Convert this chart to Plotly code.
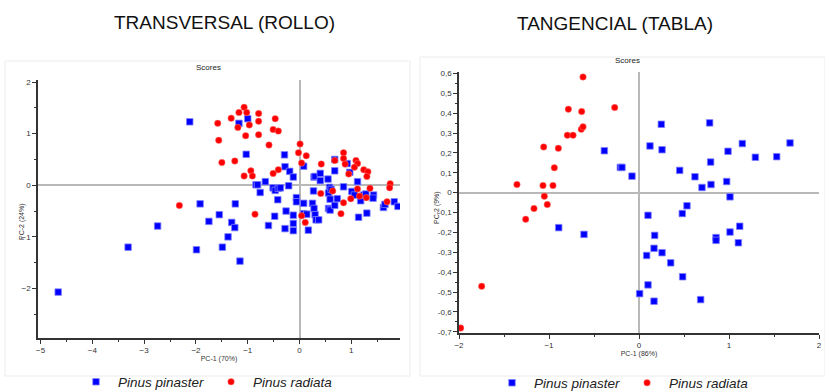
import plotly.graph_objects as go

# ---------------- data ----------------
# Left panel: TRANSVERSAL (ROLLO)
rollo_pinaster_x = [-2.12, -1.17, -1.00, -1.03, -0.29, 0.08, -0.28, -0.19, -0.12, -0.66, -0.84, -0.81, -0.76,
                    -0.51, -0.47, -0.41, -0.37, -0.42, -0.21, -0.06, -0.06, -0.12, -0.12, -0.12, -0.26, -0.28,
                    -0.48, -0.60, 0.08, 0.08, 0.14, 0.17, 0.25, 0.28, 0.30, 0.32, 0.37, 0.27, 0.28, 0.30, 0.40,
                    0.40, 0.55, 0.58, 0.56, 0.59, 0.56, 0.59, 0.68, 0.68, 0.68, 0.73, 0.85, 0.92, 0.97, 1.01,
                    1.06, 1.12, 1.14, 1.18, 1.24, 1.28, 1.30, 1.43, 1.42, 1.62, 1.65, 1.83, 1.90, -1.92, -1.24,
                    -1.55, -1.75, -1.31, -1.25, -1.38, -1.49, -1.99, -1.15, -2.74, -3.31, -4.66, 0.61]
rollo_pinaster_y = [1.23, 1.20, 1.29, 0.60, 0.59, 0.37, 0.36, 0.27, 0.16, 0.07, 0.01, 0.01, -0.14,
                    -0.05, -0.10, -0.06, -0.05, -0.28, -0.01, -0.24, -0.32, -0.58, -0.74, -0.88, -0.50, -0.84,
                    -0.60, -0.78, -0.35, -0.55, -0.56, -0.87, -0.35, -0.45, -0.57, -0.67, -0.67, -0.11, 0.16, 0.17, 0.23,
                    0.09, 0.12, -0.04, -0.15, -0.27, -0.45, -0.48, -0.39, 0.28, 0.50, -0.26, -0.03, 0.42, 0.25, -0.12,
                    -0.19, 0.07, -0.62, -0.30, -0.19, -0.17, -0.54, -0.19, -0.25, -0.43, -0.37, -0.32, -0.41, -0.36, -0.36,
                    -0.57, -0.70, -0.72, -0.82, -1.00, -1.20, -1.25, -1.47, -0.79, -1.20, -2.07, -0.08]
rollo_radiata_x = [-1.07, -1.17, -1.02, -0.79, -1.32, -0.47, -1.58, -0.97, -0.79, -1.19, -0.51, -0.41, -1.04,
                   -0.79, -1.56, -0.59, 0.01, -0.02, 0.13, -1.50, -1.25, 0.04, 0.42, -0.41, -0.94, -1.07, -0.91,
                   -0.51, 0.85, 0.85, 0.68, 1.09, 1.12, 0.88, 1.06, 1.24, 1.32, 1.30, 0.95, 1.75, 1.74, 1.36,
                   0.41, 0.64, 1.12, 1.16, 0.99, 1.29, 1.69, 0.85, 0.80, 0.04, 0.11, -0.86, -2.32]
rollo_radiata_y = [1.51, 1.41, 1.41, 1.39, 1.30, 1.29, 1.20, 1.17, 1.24, 1.12, 1.08, 1.05, 0.96,
                   0.98, 0.87, 0.78, 0.80, 0.63, 0.57, 0.44, 0.47, 0.43, 0.41, 0.30, 0.28, 0.18, 0.18,
                   0.23, 0.63, 0.52, 0.48, 0.48, 0.42, 0.41, 0.35, 0.30, 0.26, 0.17, 0.22, 0.03, -0.05, -0.06,
                   -0.16, -0.11, -0.07, -0.21, -0.26, -0.24, -0.32, -0.34, -0.55, -0.59, -0.72, -0.56, -0.39]

# Right panel: TANGENCIAL (TABLA)
tabla_pinaster_x = [-0.385, -0.207, -0.189, -0.078, 0.248, 0.122, 0.256, 0.785, 0.452, 0.622, 0.700, 0.800,
                    0.796, 0.974, 0.989, 1.148, 1.293, 1.530, 1.678, 1.011, 0.533, -0.892, -0.611, 0.100,
                    0.085, 0.100, 0.007, 0.481, 1.119, 1.011, 0.174, 0.856, 0.856, 1.104, 0.167, 0.256,
                    0.352, 0.485, 0.167, 0.685]
tabla_pinaster_y = [0.211, 0.127, 0.127, 0.083, 0.344, 0.235, 0.216, 0.351, 0.112, 0.080, 0.026, 0.041,
                    0.154, 0.056, 0.208, 0.247, 0.178, 0.181, 0.250, -0.021, -0.066, -0.176, -0.210, -0.114,
                    -0.316, -0.464, -0.508, -0.105, -0.169, -0.198, -0.215, -0.226, -0.240, -0.252, -0.280, -0.302,
                    -0.353, -0.423, -0.546, -0.538]
tabla_radiata_x = [-0.622, -0.785, -0.637, -0.270, -0.796, -0.733, -0.641, -0.622, -1.059, -0.896, -0.941,
                   -1.356, -1.067, -0.956, -1.052, -1.019, -1.167, -1.259, -1.748, -1.981]
tabla_radiata_y = [0.582, 0.420, 0.408, 0.428, 0.289, 0.289, 0.319, 0.331, 0.230, 0.223, 0.125,
                   0.041, 0.036, 0.036, -0.018, -0.060, -0.080, -0.134, -0.471, -0.681]

series_names = ["Pinus pinaster", "Pinus radiata"]
panel_titles = ["TRANSVERSAL (ROLLO)", "TANGENCIAL (TABLA)"]
axis_titles = [("PC-1 (70%)", "PC-2 (24%)"), ("PC-1 (86%)", "PC-2 (9%)")]

left_xticks = [-5, -4, -3, -2, -1, 0, 1]
left_yticks = [-2, -1, 0, 1, 2]
right_xticks = [-2, -1, 0, 1, 2]
right_yticks = [0.6, 0.5, 0.4, 0.3, 0.2, 0.1, 0, -0.1, -0.2, -0.3, -0.4, -0.5, -0.6, -0.7]
right_yticktext = ["0,6", "0,5", "0,4", "0,3", "0,2", "0,1", "0", "-0,1", "-0,2", "-0,3", "-0,4",
                   "-0,5", "-0,6", "-0,7"]

# ---------------- figure ----------------
W, H = 825, 392
BLUE = "#0000ff"
RED = "#ff0000"
TICKFONT = dict(family="Liberation Sans, Arial, sans-serif", size=8, color="#333333")

def px_x(p):
    return p / W

def px_y(p):
    return 1 - p / H

sq = dict(symbol="square", size=6.5, color=BLUE, line=dict(width=0.8, color="#8080ff"))
dot = dict(symbol="circle", size=6.5, color=RED, line=dict(width=0.5, color="#ff8080"))

fig = go.Figure()
fig.add_trace(go.Scatter(x=rollo_pinaster_x, y=rollo_pinaster_y, mode="markers", marker=sq,
                         name=series_names[0], xaxis="x", yaxis="y", legend="legend"))
fig.add_trace(go.Scatter(x=rollo_radiata_x, y=rollo_radiata_y, mode="markers", marker=dot,
                         name=series_names[1], xaxis="x", yaxis="y", legend="legend"))
fig.add_trace(go.Scatter(x=tabla_pinaster_x, y=tabla_pinaster_y, mode="markers", marker=sq,
                         name=series_names[0], xaxis="x2", yaxis="y2", legend="legend2"))
fig.add_trace(go.Scatter(x=tabla_radiata_x, y=tabla_radiata_y, mode="markers", marker=dot,
                         name=series_names[1], xaxis="x2", yaxis="y2", legend="legend2"))

axis_common = dict(showline=True, linecolor="#333333", linewidth=1.5, ticks="outside", ticklen=4,
                   tickwidth=1, tickcolor="#333333", showgrid=False, zeroline=True,
                   zerolinecolor="#b8b8b8", zerolinewidth=1.5, tickfont=TICKFONT, mirror=False,
                   automargin=False)

legend_font = dict(family="Liberation Sans, sans-serif", size=13.5, style="italic", color="#222222")

fig.update_layout(
    width=W, height=H, margin=dict(l=0, r=0, t=0, b=0, autoexpand=False),
    paper_bgcolor="white", plot_bgcolor="white",
    xaxis=dict(axis_common, domain=[px_x(38), px_x(400)], range=[-5.05, 1.94], anchor="y",
               tickvals=left_xticks, minor=dict(ticks="outside", ticklen=2, dtick=0.5, tickcolor="#333333"),
               title=dict(text=axis_titles[0][0], font=dict(TICKFONT, size=7), standoff=2)),
    yaxis=dict(axis_common, domain=[px_y(338), px_y(80)], range=[-2.96, 2.04], anchor="x",
               tickvals=left_yticks, minor=dict(ticks="outside", ticklen=2, dtick=0.5, tickcolor="#333333")),
    xaxis2=dict(axis_common, domain=[px_x(459), px_x(819)], range=[-2, 2], anchor="y2",
                tickvals=right_xticks, minor=dict(ticks="outside", ticklen=2, dtick=0.5, tickcolor="#333333"),
                title=dict(text=axis_titles[1][0], font=dict(TICKFONT, size=7), standoff=2)),
    yaxis2=dict(axis_common, domain=[px_y(333), px_y(72)], range=[-0.706, 0.607], anchor="x2",
                tickvals=right_yticks, ticktext=right_yticktext,
                minor=dict(ticks="outside", ticklen=2, dtick=0.05, tickcolor="#333333")),
    legend=dict(orientation="h", x=px_x(74), y=px_y(382), xanchor="left", yanchor="middle",
                font=legend_font, itemwidth=34, bgcolor="rgba(0,0,0,0)", itemclick=False),
    legend2=dict(orientation="h", x=px_x(490), y=px_y(383), xanchor="left", yanchor="middle",
                 font=legend_font, itemwidth=34, bgcolor="rgba(0,0,0,0)", itemclick=False),
    showlegend=True,
)

# panel frames (faint)
fig.add_shape(type="rect", xref="paper", yref="paper", x0=px_x(5), x1=px_x(410), y0=px_y(376), y1=px_y(61),
              line=dict(color="#ececec", width=1), layer="below")
fig.add_shape(type="rect", xref="paper", yref="paper", x0=px_x(420), x1=px_x(825), y0=px_y(376), y1=px_y(57),
              line=dict(color="#ececec", width=1), layer="below")

# titles
title_font = dict(family="Liberation Sans, sans-serif", size=19, color="#111111")
fig.add_annotation(text=panel_titles[0], xref="paper", yref="paper", x=px_x(224), y=px_y(22),
                   showarrow=False, font=title_font, xanchor="center", yanchor="middle")
fig.add_annotation(text=panel_titles[1], xref="paper", yref="paper", x=px_x(615), y=px_y(24),
                   showarrow=False, font=title_font, xanchor="center", yanchor="middle")
fig.add_annotation(text="Scores", xref="paper", yref="paper", x=px_x(208), y=px_y(68),
                   showarrow=False, font=dict(TICKFONT, size=8, color="#222222"), xanchor="center", yanchor="middle")
fig.add_annotation(text="Scores", xref="paper", yref="paper", x=px_x(627), y=px_y(60),
                   showarrow=False, font=dict(TICKFONT, size=8, color="#222222"), xanchor="center", yanchor="middle")
# y-axis titles
fig.add_annotation(text=axis_titles[0][1], xref="paper", yref="paper", x=px_x(22), y=px_y(222),
                   textangle=-90, showarrow=False, font=dict(TICKFONT, size=7),
                   xanchor="center", yanchor="middle")
fig.add_annotation(text=axis_titles[1][1], xref="paper", yref="paper", x=px_x(437), y=px_y(208),
                   textangle=-90, showarrow=False, font=dict(TICKFONT, size=7),
                   xanchor="center", yanchor="middle")

fig.write_html("out.html")
